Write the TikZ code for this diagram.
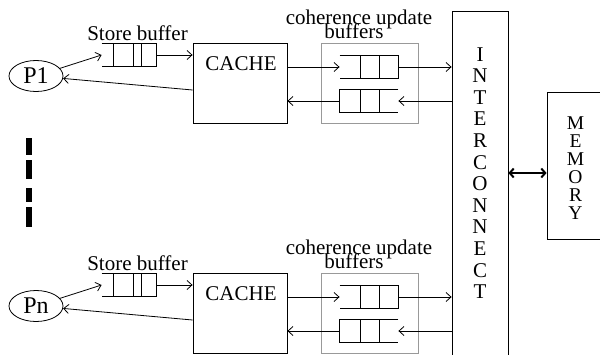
\documentclass[tikz,border=0pt]{standalone}
\usepackage{fontspec}
\setmainfont{Liberation Serif}
\usetikzlibrary{arrows.meta,shapes.geometric}
\begin{document}
\begin{tikzpicture}[x=1pt,y=-1pt,
  line width=0.8pt,
  >={Straight Barb[length=5pt,width=9pt]},
  proc/.style={ellipse,draw,minimum width=54pt,minimum height=31pt,inner sep=0pt,
    font=\fontsize{24}{24}\selectfont},
  box/.style={draw,rectangle,inner sep=0pt},
  ghost/.style={rectangle,inner sep=0pt},
  gbox/.style={draw=black!40,rectangle,inner sep=0pt},
  lbl/.style={font=\fontsize{21}{15}\selectfont,inner sep=0pt,anchor=base},
  letter/.style={font=\fontsize{21}{21}\selectfont,inner sep=0pt,anchor=base},
  mletter/.style={font=\fontsize{19.5}{19.5}\selectfont,inner sep=0pt,anchor=base},
  biarrow/.style={<->,line width=2pt,>={Straight Barb[length=4pt,width=9pt]}}
]
\useasboundingbox (0,0) rectangle (600,354);

% interconnect and memory
\node[box,minimum width=56pt,minimum height=349pt] (ic) at (480,185.5) {};
\foreach[count=\i] \c in {I,N,T,E,R,C,O,N,N,E,C,T}
  \node[letter] (ic-\i) at (480,{61+21.6*(\i-1)}) {\c};
\node[box,minimum width=68pt,minimum height=147pt] (mem) at (581,165.5) {};
\foreach[count=\i] \c in {M,E,M,O,R,Y}
  \node[mletter] (mem-\i) at (575.5,{129+18*(\i-1)}) {\c};
\coordinate (bi) at (0,173);
\draw[biarrow] (ic.east |- bi) -- (mem.west |- bi);

% dots between processors
\fill (26,138) rectangle (32,155);
\fill (26,160) rectangle (32,179);
\fill (26,188) rectangle (32,202);
\fill (26,207) rectangle (32,227);

\foreach \p/\dy/\name in {a/0/P1,b/230/Pn} {
  % processor
  \node[proc] (\p-proc) at (36,76+\dy) {\name};
  % store buffer
  \node[lbl] (\p-sblbl) at (137.5,40+\dy) {Store buffer};
  \node[ghost,minimum width=54pt,minimum height=22pt] (\p-sb) at (129,55+\dy) {};
  \draw (\p-sb.north west) -- (\p-sb.north east) -- (\p-sb.south east) -- (\p-sb.south west);
  \foreach \x in {113,133,141}
    \draw (\x,44+\dy) -- (\x,66+\dy);
  % cache
  \node[box,minimum width=94pt,minimum height=80pt] (\p-cache) at (240,83+\dy) {};
  \node[lbl] (\p-cachelbl) at (241,70+\dy) {CACHE};
  % coherence update buffers
  \node[gbox,minimum width=97pt,minimum height=80pt] (\p-cub) at (369.5,83+\dy) {};
  \node[lbl] (\p-cublbl) at (359,24+\dy) {coherence update};
  \node[lbl] (\p-cublbl2) at (354,38+\dy) {buffers};
  \node[ghost,minimum width=58pt,minimum height=22pt] (\p-cq1) at (369,67+\dy) {};
  \draw (\p-cq1.north west) -- (\p-cq1.north east) -- (\p-cq1.south east) -- (\p-cq1.south west);
  \node[ghost,minimum width=58pt,minimum height=22pt] (\p-cq2) at (369,101+\dy) {};
  \draw (\p-cq2.north east) -- (\p-cq2.north west) -- (\p-cq2.south west) -- (\p-cq2.south east);
  \foreach \x in {360,379} {
    \draw (\x,56+\dy) -- (\x,78+\dy);
    \draw (\x,90+\dy) -- (\x,112+\dy);
  }
  % connectors
  \draw[->] (\p-proc) -- (\p-sb.west);
  \draw[->] (\p-sb.east) -- (\p-cache.west |- \p-sb.east);
  \draw[->] (\p-cache.west) ++(0,7) -- (\p-proc);
  \draw[->] (\p-cache.east |- \p-cq1.west) -- (\p-cq1.west);
  \draw[->] (\p-cq1.east) -- (ic.west |- \p-cq1.east);
  \draw[->] (ic.west |- \p-cq2.east) -- (\p-cq2.east);
  \draw[->] (\p-cq2.west) -- (\p-cache.east |- \p-cq2.west);
}
\end{tikzpicture}
\end{document}
